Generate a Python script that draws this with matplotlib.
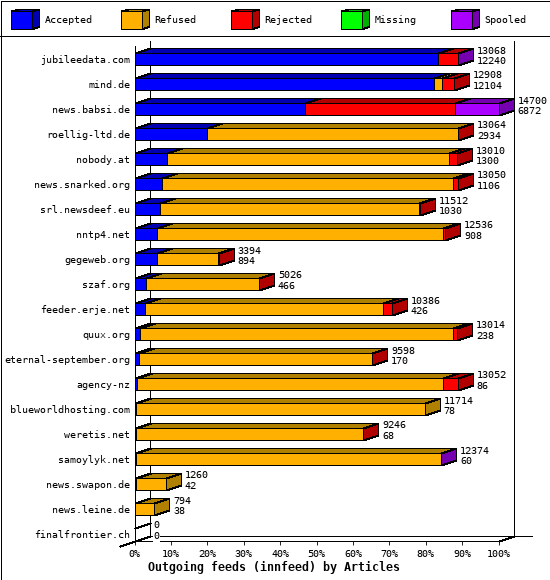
import matplotlib
matplotlib.use('Agg')
import matplotlib.pyplot as plt
from matplotlib.patches import Polygon, Rectangle

hosts = ['jubileedata.com', 'mind.de', 'news.babsi.de', 'roellig-ltd.de', 'nobody.at',
         'news.snarked.org', 'srl.newsdeef.eu', 'nntp4.net', 'gegeweb.org', 'szaf.org',
         'feeder.erje.net', 'quux.org', 'eternal-september.org', 'agency-nz',
         'blueworldhosting.com', 'weretis.net', 'samoylyk.net', 'news.swapon.de',
         'news.leine.de', 'finalfrontier.ch']
accepted = [12240, 12104, 6872, 2934, 1300, 1106, 1030, 908, 894, 466,
            426, 238, 170, 86, 78, 68, 60, 42, 38, 0]
refused = [0, 320, 0, 10118, 11390, 11754, 10474, 11538, 2484, 4548,
           9620, 12606, 9416, 12388, 11636, 9172, 12306, 1218, 756, 0]
rejected = [820, 484, 6071, 12, 320, 190, 8, 90, 16, 12,
            340, 170, 12, 578, 0, 6, 0, 0, 0, 0]
missing = [0] * 20
spooled = [8, 0, 1757, 0, 0, 0, 0, 0, 0, 0,
           0, 0, 0, 0, 0, 0, 8, 0, 0, 0]
totals = [13068, 12908, 14700, 13064, 13010, 13050, 11512, 12536, 3394, 5026,
          10386, 13014, 9598, 13052, 11714, 9246, 12374, 1260, 794, 0]
names = ['Accepted', 'Refused', 'Rejected', 'Missing', 'Spooled']
front = ['#0000ff', '#ffb000', '#ff0000', '#00ff00', '#aa00ff']
dark = ['#0000b0', '#b08000', '#b00000', '#00b000', '#7500b0']
pct = [0, 10, 20, 30, 40, 50, 60, 70, 80, 90, 100]

W, H = 550, 580
XMAX = max(totals)
plt.rcParams['font.family'] = ['DejaVu Sans Mono']
plt.rcParams['text.hinting'] = 'native'
LW = 0.6
TS = 7.2
edge = dict(ec='black', lw=LW, antialiased=False, snap=True)

fig = plt.figure(figsize=(W / 100, H / 100), dpi=100, facecolor='white')

# frame and legend, in pixel coordinates
bg = fig.add_axes([0, 0, 1, 1])
bg.set_xlim(0, W)
bg.set_ylim(H, 0)
bg.axis('off')
bg.add_patch(Rectangle((0.5, 0.5), 549, 579, fc='none', **edge))
bg.plot([0, W], [35.5, 35.5], color='black', lw=LW, antialiased=False, snap=True)
for k, name in enumerate(names):
    x0 = 10.5 + 110 * k
    bg.add_patch(Polygon([(x0 + 21, 10.5), (x0 + 28, 8.5), (x0 + 28, 25.5), (x0 + 21, 28.5)],
                         fc=dark[k], **edge))
    bg.add_patch(Polygon([(x0, 10.5), (x0 + 7, 8.5), (x0 + 28, 8.5), (x0 + 21, 10.5)],
                         fc=dark[k], **edge))
    bg.add_patch(Rectangle((x0, 10.5), 21, 18, fc=front[k], **edge))
    bg.text(x0 + 34, 20, name, fontsize=TS, va='center', ha='left')
bg.text(274.5, 567, 'Outgoing feeds (innfeed) by Articles', fontsize=8.4, fontweight='bold',
        ha='center', va='center')

# chart axes: x in articles, y in rows
ax = fig.add_axes([134.5 / W, 1 - 540.5 / H, 364 / W, 495 / H])
ax.patch.set_alpha(0)
ax.set_xlim(0, XMAX)
ax.set_ylim((540.5 - 59) / 25, (45.5 - 59) / 25)
dx = 15 / 364 * XMAX
dy = 5 / 25
hh = 6 / 25

for s in ['top', 'right']:
    ax.spines[s].set_visible(False)
for s in ['left', 'bottom']:
    ax.spines[s].set_linewidth(LW)
    ax.spines[s].set_antialiased(False)
ax.set_xticks([p / 100 * XMAX for p in pct])
ax.set_xticklabels(['%d%%' % p for p in pct], fontsize=TS)
ax.tick_params(axis='x', length=3, width=LW, pad=3)
ax.set_yticks(range(len(hosts)))
ax.set_yticklabels(hosts, fontsize=TS)
ax.tick_params(axis='y', length=0, pad=3)

ybot = ax.get_ylim()[0]
ytop = ax.get_ylim()[1]
wall = dict(color='black', lw=LW, antialiased=False, snap=True, clip_on=False, zorder=1)
ax.plot([dx, dx], [ybot - dy, ytop - dy], **wall)
ax.plot([XMAX + dx, XMAX + dx], [ybot - dy, ytop - dy], **wall)
ax.plot([dx, XMAX + dx * 2.2], [ybot - dy, ybot - dy], **wall)
ax.plot([-dx, dx], [ybot + dy, ybot - dy], **wall)
ax.plot([XMAX, XMAX + dx], [ybot, ybot - dy], **wall)

series = [accepted, refused, rejected, missing, spooled]
for i in range(len(hosts)):
    left = 0
    last = 0
    top = i - hh
    bot = i + hh
    for k, vals in enumerate(series):
        v = vals[i]
        if v == 0:
            continue
        ax.add_patch(Polygon([(left, top), (left + dx, top - dy), (left + v + dx, top - dy), (left + v, top)],
                             fc=dark[k], clip_on=False, zorder=3, **edge))
        ax.add_patch(Rectangle((left, top), v, bot - top, fc=front[k], clip_on=False, zorder=4, **edge))
        left += v
        last = k
    if totals[i] > 0:
        ax.add_patch(Polygon([(left, top), (left + dx, top - dy), (left + dx, bot - dy), (left, bot)],
                             fc=dark[last], clip_on=False, zorder=3, **edge))
    else:
        ax.plot([0, dx], [top, top - dy], color='black', lw=LW, antialiased=False, snap=True,
                clip_on=False, zorder=3)
    box = dict(fc='white', ec='none', pad=0.6)
    ax.annotate(str(totals[i]), (totals[i], i), xytext=(19, 8.5), textcoords='offset pixels',
                fontsize=TS, va='center', ha='left', annotation_clip=False, bbox=box, zorder=5)
    ax.annotate(str(accepted[i]), (totals[i], i), xytext=(19, -2), textcoords='offset pixels',
                fontsize=TS, va='center', ha='left', annotation_clip=False, bbox=box, zorder=5)

fig.savefig('out.png', dpi=100)
